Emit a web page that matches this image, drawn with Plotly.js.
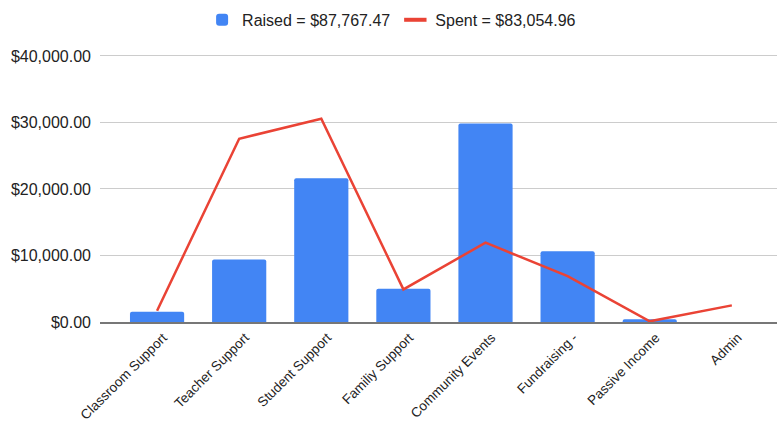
<!DOCTYPE html>
<html>
<head>
<meta charset="utf-8">
<script src="https://cdn.plot.ly/plotly-3.0.1.min.js"></script>
<style>html,body{margin:0;padding:0;background:#fff;}#chart{width:777px;height:423px;}</style>
</head>
<body>
<div id="chart"></div>
<script>
var categories = ["Classroom Support", "Teacher Support", "Student Support", "Familiy Support", "Community Events", "Fundraising -", "Passive Income", "Admin"];
var raised = [1560, 9400, 21620, 5000, 29850, 10650, 400, 0];
var spent = [1700, 27560, 30570, 4900, 11930, 6900, 100, 2500];
var raisedName = "Raised = $87,767.47";
var spentName = "Spent = $83,054.96";
var yTicks = [0, 10000, 20000, 30000, 40000];
var yTickText = ["$0.00", "$10,000.00", "$20,000.00", "$30,000.00", "$40,000.00"];

var font = "Liberation Sans, Arial, sans-serif";
var traces = [
  {type: "bar", x: categories, y: raised, name: raisedName, marker: {color: "#4285F4", cornerradius: 2}, width: 0.66, hoverinfo: "none"},
  {type: "scatter", mode: "lines", x: categories, y: spent, name: spentName, line: {color: "#EA4335", width: 2.5}, hoverinfo: "none", showlegend: false},
  {type: "scatter", mode: "markers", x: [categories[0]], y: [null], name: spentName, hoverinfo: "none",
   marker: {symbol: "line-ew", size: 16, color: "#EA4335", line: {color: "#EA4335", width: 4}}}
];
var layout = {
  width: 777, height: 423,
  margin: {l: 100, r: 0, t: 50, b: 101},
  paper_bgcolor: "#fff", plot_bgcolor: "#fff",
  font: {family: font, size: 14, color: "#222"},
  showlegend: true,
  legend: {orientation: "h", xref: "container", yref: "container", x: 0.504, y: 0.953, xanchor: "center", yanchor: "middle",
           font: {family: font, size: 16, color: "#222"}, itemwidth: 30, traceorder: "normal"},
  xaxis: {type: "category", range: [-0.695, 7.55], tickangle: -45, showgrid: false, zeroline: false,
          showline: true, linecolor: "#777", linewidth: 1.5, ticks: "", ticklabelshift: 6, ticklabelstandoff: 1,
          tickfont: {family: font, size: 13.5, color: "#222"}},
  yaxis: {range: [0, 40900], tickvals: yTicks, ticktext: yTickText, showgrid: true, gridcolor: "#ccc", gridwidth: 1,
          zeroline: false, showline: false, ticks: "", ticklabelstandoff: 8, tickfont: {family: font, size: 16, color: "#222"}},
  bargap: 0.34
};
Plotly.newPlot("chart", traces, layout, {displayModeBar: false, staticPlot: true});
</script>
</body>
</html>
